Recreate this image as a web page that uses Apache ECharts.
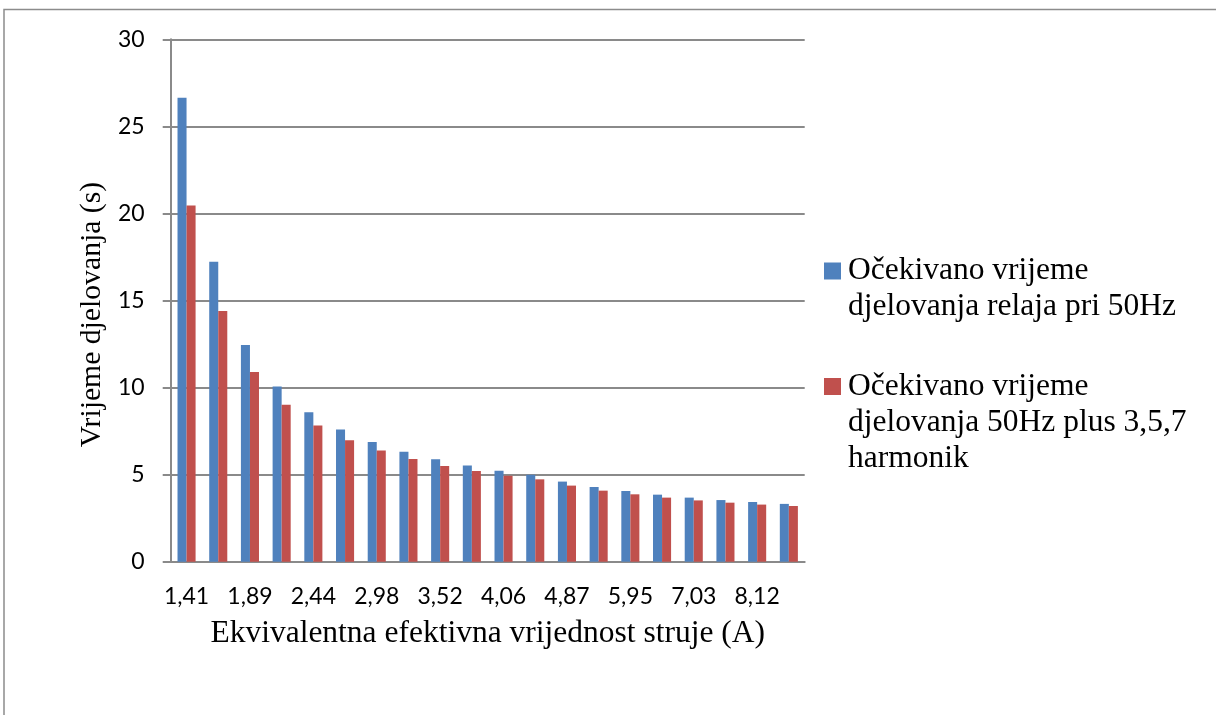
<!DOCTYPE html>
<html>
<head>
<meta charset="utf-8">
<title>Vrijeme djelovanja releja</title>
<script src="https://cdn.jsdelivr.net/npm/echarts@6/dist/echarts.min.js"></script>
<style>
  html, body { margin: 0; padding: 0; background: #ffffff; }
  #chart { width: 1216px; height: 715px; }
</style>
</head>
<body>
<div id="chart"></div>
<script>
// Equivalent RMS current (A); every other label is shown on the axis
const categories = [
  '1,41', '1,65', '1,89', '2,17', '2,44', '2,71', '2,98', '3,25', '3,52', '3,79',
  '4,06', '4,33', '4,87', '5,41', '5,95', '6,49', '7,03', '7,57', '8,12', '8,66'
];

// Expected relay operating time at 50 Hz (s)
const time50Hz = [
  26.65, 17.22, 12.45, 10.06, 8.58, 7.59, 6.88, 6.32, 5.88, 5.53,
  5.23, 5.00, 4.60, 4.29, 4.06, 3.85, 3.68, 3.54, 3.43, 3.32
];

// Expected operating time, 50 Hz plus 3rd, 5th and 7th harmonic (s)
const timeHarmonics = [
  20.46, 14.39, 10.90, 9.02, 7.82, 6.97, 6.38, 5.90, 5.50, 5.21,
  4.94, 4.73, 4.37, 4.08, 3.87, 3.68, 3.52, 3.39, 3.28, 3.20
];

const seriesNames = [
  'Očekivano vrijeme djelovanja relaja pri 50Hz',
  'Očekivano vrijeme djelovanja 50Hz plus 3,5,7 harmonik'
];

// Line breaks used for the legend entries
const legendLines = [
  ['Očekivano vrijeme', 'djelovanja relaja pri 50Hz'],
  ['Očekivano vrijeme', 'djelovanja 50Hz plus 3,5,7', 'harmonik']
];

const yTicks = { min: 0, max: 30, interval: 5 };

const xTitle = 'Ekvivalentna efektivna vrijednost struje (A)';
const yTitle = 'Vrijeme djelovanja (s)';

const BLUE = '#4F81BD';
const RED = '#C0504D';
const GRID_GRAY = '#8a8a8a';
const SANS = 'Lato, "Open Sans", sans-serif';
const SERIF = '"Liberation Serif", "DejaVu Serif", serif';
const LEGEND_LINE = 36;
const LEGEND_FONT = 31.5;

const chart = echarts.init(document.getElementById('chart'), null, { renderer: 'canvas' });

// Each legend entry: a colour square beside the first line, later lines indented
function legendText(name) {
  const idx = seriesNames.indexOf(name);
  const box = idx === 0 ? 'sqBlue' : 'sqRed';
  return legendLines[idx].map(function (line, i) {
    return (i === 0 ? '{' + box + '| }{gap| }' : '{ind| }') + '{t|' + line + '}';
  }).join('\n');
}

const option = {
  backgroundColor: '#ffffff',
  animation: false,
  grid: {
    left: 170.7,
    right: 411.3,
    top: 39.3,
    bottom: 153.3,
    containLabel: false
  },
  legend: {
    left: 819,
    top: 255,
    padding: 0,
    orient: 'vertical',
    itemWidth: 0,
    itemHeight: 0,
    itemGap: 47.5,
    selectedMode: false,
    data: seriesNames,
    formatter: legendText,
    textStyle: {
      rich: {
        sqBlue: { width: 17, height: 17, backgroundColor: BLUE },
        sqRed: { width: 17, height: 17, backgroundColor: RED },
        gap: { width: 7 },
        ind: { width: 24 },
        t: {
          fontFamily: SERIF,
          fontSize: LEGEND_FONT,
          color: '#000',
          lineHeight: LEGEND_LINE
        }
      }
    }
  },
  xAxis: {
    type: 'category',
    data: categories,
    name: xTitle,
    nameLocation: 'middle',
    nameGap: 56,
    nameTextStyle: { fontFamily: SERIF, fontSize: 31.5, color: '#000' },
    axisLine: { show: true, lineStyle: { color: GRID_GRAY, width: 2 } },
    axisTick: { show: false },
    axisLabel: {
      interval: 1,
      margin: 23.5,
      fontFamily: SANS,
      fontSize: 23,
      color: '#000'
    },
    splitLine: { show: false }
  },
  yAxis: {
    type: 'value',
    min: yTicks.min,
    max: yTicks.max,
    interval: yTicks.interval,
    name: yTitle,
    nameLocation: 'middle',
    nameGap: 61.5,
    nameTextStyle: {
      fontFamily: SERIF,
      fontSize: 29.7,
      color: '#000',
      padding: [0, 28, 0, 0]
    },
    axisLine: { show: true, lineStyle: { color: GRID_GRAY, width: 2 } },
    axisTick: { show: true, inside: false, length: 8, lineStyle: { color: GRID_GRAY, width: 2 } },
    axisLabel: {
      margin: 26,
      fontFamily: SANS,
      fontSize: 23,
      color: '#000'
    },
    splitLine: { show: true, lineStyle: { color: GRID_GRAY, width: 2 } }
  },
  series: [
    {
      name: seriesNames[0],
      type: 'bar',
      data: time50Hz,
      barGap: '0%',
      barCategoryGap: '43%',
      itemStyle: { color: BLUE }
    },
    {
      name: seriesNames[1],
      type: 'bar',
      data: timeHarmonics,
      barGap: '0%',
      barCategoryGap: '43%',
      itemStyle: { color: RED }
    }
  ],
  // Outer frame along the top and left edges of the chart area
  graphic: [{
    type: 'polyline',
    silent: true,
    shape: { points: [[4, 715], [4, 9.5], [1216, 9.5]] },
    style: { stroke: '#8c8c8c', lineWidth: 1.5, fill: null }
  }]
};

chart.setOption(option);
</script>
</body>
</html>
